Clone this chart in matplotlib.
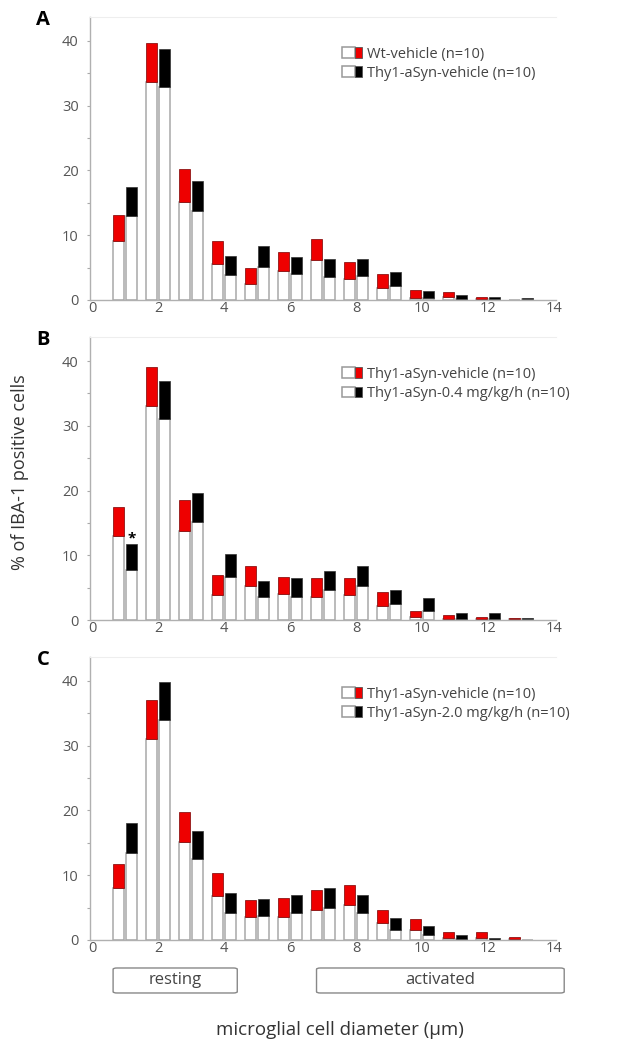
import numpy as np
import matplotlib.pyplot as plt
from matplotlib.patches import Rectangle, FancyBboxPatch
from matplotlib.transforms import blended_transform_factory

plt.rcParams['font.family'] = ['Open Sans', 'DejaVu Sans']

# diameter bins (um)
bins = np.arange(1, 14)

# panel A: Wt-vehicle (red) vs Thy1-aSyn-vehicle (black); white part = base, coloured part up to top
a_red_base = [9.1, 33.7, 15.2, 5.6, 2.5, 4.5, 6.2, 3.2, 1.8, 0.35, 0.4, 0.1, 0]
a_red_top = [13.2, 39.7, 20.2, 9.1, 4.9, 7.4, 9.4, 5.8, 4.0, 1.5, 1.3, 0.4, 0]
a_blk_base = [13.0, 32.9, 13.8, 3.9, 5.1, 4.0, 3.6, 3.7, 2.2, 0.35, 0.2, 0.1, 0.1]
a_blk_top = [17.5, 38.8, 18.4, 6.8, 8.3, 6.6, 6.4, 6.3, 4.3, 1.4, 0.8, 0.5, 0.35]

# panel B: Thy1-aSyn-vehicle (red) vs 0.4 mg/kg/h (black)
b_red_base = [13.0, 33.0, 13.8, 3.9, 5.2, 4.0, 3.6, 3.9, 2.2, 0.4, 0.15, 0.1, 0.1]
b_red_top = [17.5, 39.0, 18.5, 6.9, 8.4, 6.6, 6.5, 6.5, 4.3, 1.45, 0.8, 0.5, 0.35]
b_blk_base = [7.8, 31.1, 15.1, 6.7, 3.5, 3.6, 4.6, 5.3, 2.4, 1.4, 0.2, 0.2, 0.1]
b_blk_top = [11.8, 36.9, 19.6, 10.2, 6.1, 6.5, 7.6, 8.4, 4.6, 3.4, 1.1, 1.1, 0.35]

# panel C: Thy1-aSyn-vehicle (red) vs 2.0 mg/kg/h (black)
c_red_base = [8.0, 31.0, 15.1, 6.8, 3.6, 3.6, 4.7, 5.4, 2.6, 1.5, 0.35, 0.35, 0.1]
c_red_top = [11.8, 37.0, 19.7, 10.4, 6.2, 6.5, 7.7, 8.5, 4.7, 3.3, 1.2, 1.2, 0.4]
c_blk_base = [13.5, 34.0, 12.5, 4.2, 3.7, 4.2, 5.0, 4.1, 1.5, 0.8, 0.15, 0.05, 0]
c_blk_top = [18.0, 39.9, 16.9, 7.3, 6.4, 6.9, 8.0, 6.9, 3.4, 2.2, 0.8, 0.35, 0]

legends = [
    ('Wt-vehicle (n=10)', 'Thy1-aSyn-vehicle (n=10)'),
    ('Thy1-aSyn-vehicle (n=10)', 'Thy1-aSyn-0.4 mg/kg/h (n=10)'),
    ('Thy1-aSyn-vehicle (n=10)', 'Thy1-aSyn-2.0 mg/kg/h (n=10)'),
]
panel_labels = ['A', 'B', 'C']

# range boxes below the x axis
ranges = [(0.64, 4.4, 'resting'), (6.8, 14.3, 'activated')]


class SplitHandler:
    # white box with coloured right part, like the original legend keys
    def legend_artist(self, legend, orig_handle, fontsize, handlebox):
        x0, y0 = handlebox.xdescent, handlebox.ydescent
        w, h = handlebox.width, handlebox.height
        tr = handlebox.get_transform()
        wht = Rectangle((x0, y0), w * 0.64, h, fc='white', ec='#999999', lw=1.1, transform=tr)
        col = Rectangle((x0 + w * 0.64, y0), w * 0.36, h, fc=orig_handle.get_facecolor(),
                        ec='#555555', lw=0.6, transform=tr)
        handlebox.add_artist(wht)
        handlebox.add_artist(col)
        return wht


fig = plt.figure(figsize=(6.18, 10.5), dpi=100)

data = [
    (a_red_base, a_red_top, a_blk_base, a_blk_top),
    (b_red_base, b_red_top, b_blk_base, b_blk_top),
    (c_red_base, c_red_top, c_blk_base, c_blk_top),
]
bottoms = [0.7143, 0.4095, 0.1048]
axes = []
w = 0.34
for i, (rb, rt, kb, kt) in enumerate(data):
    ax = fig.add_axes([0.1456, bottoms[i], 0.754, 0.2695])
    axes.append(ax)
    rb, rt, kb, kt = map(np.array, (rb, rt, kb, kt))
    xr = bins - 0.2
    xk = bins + 0.2
    # white lower parts
    ax.bar(xr, rb, width=w, color='white', edgecolor='#a8a8a8', linewidth=1.1)
    ax.bar(xk, kb, width=w, color='white', edgecolor='#a8a8a8', linewidth=1.1)
    # coloured upper parts
    ax.bar(xr, rt - rb, bottom=rb, width=w, color='#ee0000', edgecolor='#7a0000', linewidth=0.5)
    ax.bar(xk, kt - kb, bottom=kb, width=w, color='black', edgecolor='#333333', linewidth=0.5)

    ax.set_xlim(-0.06, 14.05)
    ax.set_ylim(0, 43.7)
    ax.set_xticks(np.arange(0, 15, 2))
    ax.set_yticks(np.arange(0, 41, 10))
    ax.set_yticks(np.arange(5, 41, 10), minor=True)
    ax.tick_params(axis='y', which='both', length=2, width=0.8, color='#aaaaaa',
                   labelsize=10.5, labelcolor='#555555', pad=6)
    ax.tick_params(axis='x', length=0, labelsize=10.5, labelcolor='#555555', pad=1)
    for s in ['left', 'bottom']:
        ax.spines[s].set_color('#b0b0b0')
        ax.spines[s].set_linewidth(1.0)
    ax.spines['top'].set_color('#eeeeee')
    ax.spines['right'].set_visible(False)

    h1 = Rectangle((0, 0), 1, 1, fc='#ee0000')
    h2 = Rectangle((0, 0), 1, 1, fc='black')
    lg = ax.legend([h1, h2], legends[i], handler_map={Rectangle: SplitHandler()},
                   loc='upper left', bbox_to_anchor=(0.52, 0.93), frameon=False,
                   fontsize=10.5, handlelength=1.35, handleheight=0.75, handletextpad=0.3,
                   labelspacing=0.3, borderpad=0.2)
    for t in lg.get_texts():
        t.set_color('#444444')

    fig.text(0.07, bottoms[i] + 0.2695 - 0.003, panel_labels[i], fontsize=14.5,
             fontweight='bold', ha='center', va='center')

# significance mark in panel B
axes[1].text(1.2, 12.6, '*', ha='center', va='center', fontsize=11, fontweight='bold')

# resting / activated boxes under panel C
ax = axes[2]
tr = blended_transform_factory(ax.transData, fig.transFigure)
for x0, x1, lab in ranges:
    box = FancyBboxPatch((x0, 0.0543), x1 - x0, 0.0238,
                         boxstyle='round,pad=0,rounding_size=0.12',
                         transform=tr, fc='white', ec='#888888', lw=1.0, clip_on=False,
                         mutation_aspect=0.01)
    fig.add_artist(box)
    fig.text((x0 + x1) / 2, 0.0662, lab, transform=tr, ha='center', va='center',
             fontsize=12, color='#444444', zorder=5)

fig.text(0.55, 0.019, 'microglial cell diameter (µm)', ha='center', va='center',
         fontsize=13.5, color='#333333')
fig.text(0.033, 0.55, '% of IBA-1 positive cells', rotation=90, ha='center', va='center',
         fontsize=13, color='#333333')

fig.savefig('out.png', dpi=100)
